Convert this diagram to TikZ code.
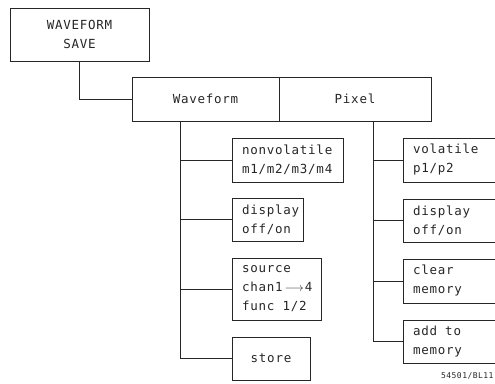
\documentclass[tikz,border=0pt]{standalone}
\usepackage{fontspec}
\usetikzlibrary{positioning}
\newfontfamily\plotter[LetterSpace=6]{DejaVu Sans Mono}

\begin{document}
\begin{tikzpicture}[x=1bp, y=-1bp, line width=0.9bp,
  font=\plotter\fontsize{12.5bp}{19bp}\selectfont,
  soft/.style={draw=black!85, text=black!85, inner sep=0pt, outer sep=0pt, anchor=north west, minimum height=44bp},
  menu/.style={draw=black!85, text=black!85, inner xsep=10bp, inner ysep=2bp, outer sep=0pt, align=left, anchor=north west},
  wire/.style={draw=black!85}]
\useasboundingbox (0,0) rectangle (495,383);
% softkey header
\node[soft, minimum width=139bp, minimum height=53bp, align=center] (wsave) at (10,8) {WAVEFORM\\SAVE};
\node[soft, minimum width=147bp] (wave) at (132,77) {Waveform};
\node[soft, minimum width=152bp, right=0pt of wave.north east, anchor=north west] (pixel) {Pixel};
\coordinate (ltrunk) at (180,121);
\coordinate (rtrunk) at (373,121);
% waveform column
\node[menu, text width=91bp, minimum height=44bp] (nonvol) at (232,138) {nonvolatile\\m1/m2/m3/m4};
\node[menu, text width=51bp, minimum height=43bp, below=16bp of nonvol.south west, anchor=north west] (ldisp) {display\\off/on};
\node[menu, text width=69bp, minimum height=62bp, below=17bp of ldisp.south west, anchor=north west] (source) {source\\\mbox{chan1\hspace{2bp}$\longrightarrow$\hspace{1bp}4}\\\mbox{func\hspace{4bp} 1/2}};
\node[menu, text width=58bp, minimum height=43bp, align=center, below=17bp of source.south west, anchor=north west] (store) {store};
% pixel column
\node[menu, text width=74bp, minimum height=44bp] (volat) at (403,138) {volatile\\p1/p2};
\node[menu, text width=74bp, minimum height=43bp, below=17bp of volat.south west, anchor=north west] (rdisp) {display\\off/on};
\node[menu, text width=74bp, minimum height=44bp, below=17bp of rdisp.south west, anchor=north west] (clear) {clear\\memory};
\node[menu, text width=74bp, minimum height=43bp, below=17bp of clear.south west, anchor=north west] (addmem) {\mbox{add\hspace{4bp} to}\\memory};
\node[anchor=south east, inner sep=0pt, text=black!85, font=\plotter\fontsize{8bp}{8bp}\selectfont] (figid) at (494,380) {54501/BL11};
% connectors
\draw[wire] (wsave.south) |- (wave.west);
\draw[wire] (ltrunk) |- (store.west);
\draw[wire] (ltrunk |- nonvol.west) -- (nonvol.west);
\draw[wire] (ltrunk |- ldisp.west) -- (ldisp.west);
\draw[wire] (ltrunk |- source.west) -- (source.west);
\draw[wire] (rtrunk) |- (addmem.west);
\draw[wire] (rtrunk |- volat.west) -- (volat.west);
\draw[wire] (rtrunk |- rdisp.west) -- (rdisp.west);
\draw[wire] (rtrunk |- clear.west) -- (clear.west);
\end{tikzpicture}
\end{document}
